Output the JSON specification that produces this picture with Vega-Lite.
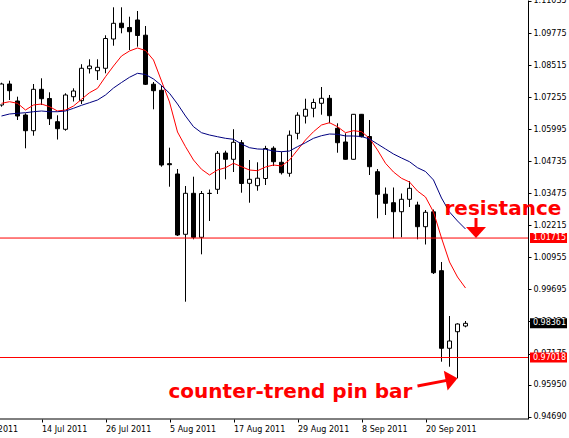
{
  "$schema": "https://vega.github.io/schema/vega-lite/v6.json",
  "width": 528,
  "height": 419,
  "autosize": {"type": "none"},
  "padding": {"left": 0, "top": 0, "right": 41, "bottom": 19},
  "background": "#ffffff",
  "config": {
    "view": {"stroke": null},
    "axis": {"labelFont": "DejaVu Sans", "labelFontSize": 8, "labelColor": "#000000", "tickColor": "#000000", "domainColor": "#000000", "grid": false, "tickSize": 3, "labelOverlap": false, "labelBound": false, "labelFlush": false}
  },
  "datasets": {
    "candles": [
      {"d": "7 Jul 2011", "o": 1.06946, "h": 1.07822, "l": 1.06879, "c": 1.07771, "f": 1.07012, "s": 1.06513},
      {"d": "8 Jul 2011", "o": 1.07771, "h": 1.07901, "l": 1.07142, "c": 1.07508, "f": 1.07075, "s": 1.06592},
      {"d": "11 Jul 2011", "o": 1.07103, "h": 1.07272, "l": 1.06356, "c": 1.06513, "f": 1.07012, "s": 1.06619},
      {"d": "12 Jul 2011", "o": 1.06552, "h": 1.06619, "l": 1.05243, "c": 1.05935, "f": 1.06749, "s": 1.06643},
      {"d": "13 Jul 2011", "o": 1.05935, "h": 1.07771, "l": 1.05739, "c": 1.07563, "f": 1.06946, "s": 1.06682},
      {"d": "14 Jul 2011", "o": 1.07563, "h": 1.07995, "l": 1.06946, "c": 1.07193, "f": 1.06985, "s": 1.06710},
      {"d": "15 Jul 2011", "o": 1.07201, "h": 1.07445, "l": 1.06159, "c": 1.06407, "f": 1.06879, "s": 1.06682},
      {"d": "18 Jul 2011", "o": 1.06289, "h": 1.06541, "l": 1.05589, "c": 1.06014, "f": 1.06710, "s": 1.06682},
      {"d": "19 Jul 2011", "o": 1.05990, "h": 1.07406, "l": 1.05935, "c": 1.07339, "f": 1.06749, "s": 1.06710},
      {"d": "20 Jul 2011", "o": 1.07272, "h": 1.07602, "l": 1.07083, "c": 1.07496, "f": 1.06906, "s": 1.06816},
      {"d": "21 Jul 2011", "o": 1.07115, "h": 1.08550, "l": 1.06985, "c": 1.08389, "f": 1.07170, "s": 1.06934},
      {"d": "22 Jul 2011", "o": 1.08373, "h": 1.08742, "l": 1.08184, "c": 1.08479, "f": 1.07429, "s": 1.07036},
      {"d": "25 Jul 2011", "o": 1.08294, "h": 1.08742, "l": 1.07929, "c": 1.08428, "f": 1.07602, "s": 1.07142},
      {"d": "26 Jul 2011", "o": 1.08389, "h": 1.09686, "l": 1.08192, "c": 1.09560, "f": 1.08058, "s": 1.07339},
      {"d": "27 Jul 2011", "o": 1.09541, "h": 1.10787, "l": 1.09277, "c": 1.10158, "f": 1.08479, "s": 1.07614},
      {"d": "28 Jul 2011", "o": 1.10162, "h": 1.10787, "l": 1.09765, "c": 1.09985, "f": 1.08872, "s": 1.07830},
      {"d": "29 Jul 2011", "o": 1.09993, "h": 1.10417, "l": 1.09108, "c": 1.09828, "f": 1.09069, "s": 1.08035},
      {"d": "1 Aug 2011", "o": 1.10288, "h": 1.10642, "l": 1.09238, "c": 1.09678, "f": 1.09187, "s": 1.08192},
      {"d": "2 Aug 2011", "o": 1.09690, "h": 1.10052, "l": 1.07732, "c": 1.07760, "f": 1.09088, "s": 1.08145},
      {"d": "3 Aug 2011", "o": 1.07763, "h": 1.07850, "l": 1.06777, "c": 1.07508, "f": 1.08715, "s": 1.07968},
      {"d": "4 Aug 2011", "o": 1.07524, "h": 1.07704, "l": 1.04520, "c": 1.04587, "f": 1.07889, "s": 1.07712},
      {"d": "5 Aug 2011", "o": 1.04638, "h": 1.05267, "l": 1.03733, "c": 1.04598, "f": 1.07064, "s": 1.07406},
      {"d": "8 Aug 2011", "o": 1.04233, "h": 1.04429, "l": 1.01795, "c": 1.01834, "f": 1.05884, "s": 1.06985},
      {"d": "9 Aug 2011", "o": 1.01862, "h": 1.03761, "l": 0.99212, "c": 1.03474, "f": 1.05306, "s": 1.06513},
      {"d": "10 Aug 2011", "o": 1.03474, "h": 1.04127, "l": 1.01665, "c": 1.01744, "f": 1.04783, "s": 1.06092},
      {"d": "11 Aug 2011", "o": 1.01744, "h": 1.03564, "l": 1.01075, "c": 1.03466, "f": 1.04418, "s": 1.05857},
      {"d": "12 Aug 2011", "o": 1.03466, "h": 1.03623, "l": 1.02385, "c": 1.03474, "f": 1.04193, "s": 1.05766},
      {"d": "15 Aug 2011", "o": 1.03631, "h": 1.05137, "l": 1.03446, "c": 1.05047, "f": 1.04390, "s": 1.05699},
      {"d": "16 Aug 2011", "o": 1.05058, "h": 1.05149, "l": 1.04024, "c": 1.04811, "f": 1.04480, "s": 1.05636},
      {"d": "17 Aug 2011", "o": 1.04811, "h": 1.05994, "l": 1.04311, "c": 1.05479, "f": 1.04653, "s": 1.05597},
      {"d": "18 Aug 2011", "o": 1.05463, "h": 1.05570, "l": 1.03497, "c": 1.03859, "f": 1.04520, "s": 1.05412},
      {"d": "19 Aug 2011", "o": 1.03867, "h": 1.04783, "l": 1.03104, "c": 1.04024, "f": 1.04390, "s": 1.05267},
      {"d": "22 Aug 2011", "o": 1.03773, "h": 1.04693, "l": 1.03576, "c": 1.04068, "f": 1.04362, "s": 1.05216},
      {"d": "23 Aug 2011", "o": 1.04056, "h": 1.05341, "l": 1.03800, "c": 1.05235, "f": 1.04508, "s": 1.05204},
      {"d": "24 Aug 2011", "o": 1.05247, "h": 1.05322, "l": 1.04547, "c": 1.04716, "f": 1.04587, "s": 1.05137},
      {"d": "25 Aug 2011", "o": 1.04693, "h": 1.05110, "l": 1.04213, "c": 1.04284, "f": 1.04547, "s": 1.05110},
      {"d": "26 Aug 2011", "o": 1.04260, "h": 1.05943, "l": 1.04127, "c": 1.05758, "f": 1.04783, "s": 1.05137},
      {"d": "29 Aug 2011", "o": 1.05833, "h": 1.06659, "l": 1.05597, "c": 1.06545, "f": 1.05176, "s": 1.05306},
      {"d": "30 Aug 2011", "o": 1.06505, "h": 1.07193, "l": 1.06218, "c": 1.06777, "f": 1.05570, "s": 1.05463},
      {"d": "31 Aug 2011", "o": 1.06816, "h": 1.07193, "l": 1.06462, "c": 1.07044, "f": 1.05896, "s": 1.05636},
      {"d": "1 Sep 2011", "o": 1.07013, "h": 1.07653, "l": 1.06564, "c": 1.07209, "f": 1.06159, "s": 1.05739},
      {"d": "2 Sep 2011", "o": 1.07209, "h": 1.07339, "l": 1.06226, "c": 1.06525, "f": 1.06250, "s": 1.05805},
      {"d": "5 Sep 2011", "o": 1.06030, "h": 1.06226, "l": 1.05070, "c": 1.05463, "f": 1.06092, "s": 1.05794},
      {"d": "6 Sep 2011", "o": 1.05491, "h": 1.05833, "l": 1.04803, "c": 1.04811, "f": 1.05857, "s": 1.05727},
      {"d": "7 Sep 2011", "o": 1.04811, "h": 1.06592, "l": 1.04803, "c": 1.06580, "f": 1.05935, "s": 1.05727},
      {"d": "8 Sep 2011", "o": 1.06580, "h": 1.06592, "l": 1.05668, "c": 1.05699, "f": 1.05896, "s": 1.05707},
      {"d": "9 Sep 2011", "o": 1.05707, "h": 1.06356, "l": 1.04193, "c": 1.04520, "f": 1.05636, "s": 1.05609},
      {"d": "12 Sep 2011", "o": 1.04323, "h": 1.04429, "l": 1.02491, "c": 1.03435, "f": 1.05176, "s": 1.05412},
      {"d": "13 Sep 2011", "o": 1.03438, "h": 1.03702, "l": 1.02621, "c": 1.03081, "f": 1.04653, "s": 1.05216},
      {"d": "14 Sep 2011", "o": 1.03104, "h": 1.03702, "l": 1.01705, "c": 1.02750, "f": 1.04311, "s": 1.05019},
      {"d": "15 Sep 2011", "o": 1.02750, "h": 1.03466, "l": 1.01744, "c": 1.03238, "f": 1.04064, "s": 1.04862},
      {"d": "16 Sep 2011", "o": 1.03238, "h": 1.03950, "l": 1.02935, "c": 1.03670, "f": 1.03918, "s": 1.04716},
      {"d": "19 Sep 2011", "o": 1.03014, "h": 1.03144, "l": 1.01665, "c": 1.02161, "f": 1.03564, "s": 1.04480},
      {"d": "20 Sep 2011", "o": 1.02161, "h": 1.02817, "l": 1.01461, "c": 1.02727, "f": 1.03328, "s": 1.04331},
      {"d": "21 Sep 2011", "o": 1.02746, "h": 1.02837, "l": 1.00301, "c": 1.00352, "f": 1.02739, "s": 1.03997},
      {"d": "22 Sep 2011", "o": 1.00431, "h": 1.00773, "l": 0.96853, "c": 0.97380, "f": 1.01716, "s": 1.03289},
      {"d": "23 Sep 2011", "o": 0.97380, "h": 0.98650, "l": 0.96656, "c": 0.97667, "f": 1.00773, "s": 1.02739},
      {"d": "26 Sep 2011", "o": 0.98032, "h": 0.98363, "l": 0.96200, "c": 0.98335, "f": 1.00183, "s": 1.02385},
      {"d": "27 Sep 2011", "o": 0.98256, "h": 0.98453, "l": 0.98205, "c": 0.98361, "f": 0.99750, "s": 1.02070}
    ]
  },
  "data": {"name": "candles"},
  "layer": [
    {
      "mark": {"type": "rule", "color": "#000000", "strokeWidth": 1},
      "encoding": {
        "x": {
          "field": "d", "type": "ordinal",
          "scale": {
            "type": "point", "padding": 0, "range": [-22.5, 545.5],
            "domain": ["4 Jul 2011","5 Jul 2011","6 Jul 2011","7 Jul 2011","8 Jul 2011","11 Jul 2011","12 Jul 2011","13 Jul 2011","14 Jul 2011","15 Jul 2011","18 Jul 2011","19 Jul 2011","20 Jul 2011","21 Jul 2011","22 Jul 2011","25 Jul 2011","26 Jul 2011","27 Jul 2011","28 Jul 2011","29 Jul 2011","1 Aug 2011","2 Aug 2011","3 Aug 2011","4 Aug 2011","5 Aug 2011","8 Aug 2011","9 Aug 2011","10 Aug 2011","11 Aug 2011","12 Aug 2011","15 Aug 2011","16 Aug 2011","17 Aug 2011","18 Aug 2011","19 Aug 2011","22 Aug 2011","23 Aug 2011","24 Aug 2011","25 Aug 2011","26 Aug 2011","29 Aug 2011","30 Aug 2011","31 Aug 2011","1 Sep 2011","2 Sep 2011","5 Sep 2011","6 Sep 2011","7 Sep 2011","8 Sep 2011","9 Sep 2011","12 Sep 2011","13 Sep 2011","14 Sep 2011","15 Sep 2011","16 Sep 2011","19 Sep 2011","20 Sep 2011","21 Sep 2011","22 Sep 2011","23 Sep 2011","26 Sep 2011","27 Sep 2011","28 Sep 2011","29 Sep 2011","30 Sep 2011","3 Oct 2011","4 Oct 2011","5 Oct 2011","6 Oct 2011","7 Oct 2011","10 Oct 2011","11 Oct 2011"]
          },
          "axis": {
            "orient": "bottom", "title": null, "domain": false,
            "values": ["4 Jul 2011","14 Jul 2011","26 Jul 2011","5 Aug 2011","17 Aug 2011","29 Aug 2011","8 Sep 2011","20 Sep 2011"],
            "labelAngle": 0, "labelAlign": "left", "labelBaseline": "top", "labelDx": -1, "labelPadding": 3,
            "labelOverlap": false, "labelBound": false, "labelFlush": false
          }
        },
        "y": {
          "field": "l", "type": "quantitative",
          "scale": {"type": "linear", "domain": [0.946, 1.11074], "nice": false, "zero": false},
          "axis": {
            "orient": "right", "title": null, "tickCount": 40,
            "values": [1.11035, 1.09775, 1.08515, 1.07255, 1.05995, 1.04735, 1.03475, 1.02215, 1.00955, 0.99695, 0.98435, 0.97175, 0.9595, 0.9469],
            "format": ".5f", "labelAlign": "left", "labelBaseline": "middle", "labelPadding": 2,
            "labelOverlap": false, "labelBound": false, "labelFlush": false
          }
        },
        "y2": {"field": "h"}
      }
    },
    {
      "mark": {"type": "bar", "size": 4, "stroke": "#000000", "strokeWidth": 1},
      "encoding": {
        "x": {"field": "d", "type": "ordinal"},
        "y": {"field": "o", "type": "quantitative", "axis": {"title": null}},
        "y2": {"field": "c"},
        "fill": {"condition": {"test": "datum.c >= datum.o", "value": "#ffffff"}, "value": "#000000"}
      }
    },
    {
      "data": {"values": [{"level": 1.01715}, {"level": 0.97018}]},
      "mark": {"type": "rule", "color": "#ff0000", "strokeWidth": 1},
      "encoding": {"y": {"field": "level", "type": "quantitative", "axis": {"title": null}}}
    },
    {
      "data": {"values": [{"base": 0.946}]},
      "mark": {"type": "rule", "color": "#000000", "strokeWidth": 1},
      "encoding": {"y": {"field": "base", "type": "quantitative", "axis": {"title": null}}}
    },
    {
      "mark": {"type": "line", "color": "#ff0000", "strokeWidth": 1},
      "encoding": {
        "x": {"field": "d", "type": "ordinal"},
        "y": {"field": "f", "type": "quantitative", "axis": {"title": null}}
      }
    },
    {
      "mark": {"type": "line", "color": "#000080", "strokeWidth": 1},
      "encoding": {
        "x": {"field": "d", "type": "ordinal"},
        "y": {"field": "s", "type": "quantitative", "axis": {"title": null}}
      }
    },
    {
      "data": {"values": [{"d": "11 Oct 2011", "price": 1.01715, "kind": "level"}, {"d": "11 Oct 2011", "price": 0.98361, "kind": "current"}, {"d": "11 Oct 2011", "price": 0.97018, "kind": "level"}]},
      "mark": {"type": "point", "shape": "M-18.5,-5L18.5,-5L18.5,5L-18.5,5Z", "size": 4, "filled": true, "opacity": 1, "strokeWidth": 0, "xOffset": 3},
      "encoding": {
        "x": {"field": "d", "type": "ordinal"},
        "y": {"field": "price", "type": "quantitative", "axis": {"title": null}},
        "fill": {"condition": {"test": "datum.kind === 'current'", "value": "#000000"}, "value": "#ff0000"}
      }
    },
    {
      "data": {"values": [{"d": "11 Oct 2011", "price": 1.01715}, {"d": "11 Oct 2011", "price": 0.98361}, {"d": "11 Oct 2011", "price": 0.97018}]},
      "mark": {"type": "text", "font": "DejaVu Sans", "fontSize": 8, "color": "#ffffff", "align": "center", "baseline": "middle", "xOffset": 4},
      "encoding": {
        "x": {"field": "d", "type": "ordinal"},
        "y": {"field": "price", "type": "quantitative", "axis": {"title": null}},
        "text": {"field": "price", "type": "quantitative", "format": ".5f"}
      }
    },
    {
      "data": {"values": [{"d": "22 Sep 2011", "price": 1.0264, "t": "resistance"}]},
      "mark": {"type": "text", "font": "DejaVu Sans", "fontWeight": "bold", "fontSize": 20, "color": "#ff0000", "align": "left", "baseline": "alphabetic", "dx": 3},
      "encoding": {
        "x": {"field": "d", "type": "ordinal"},
        "y": {"field": "price", "type": "quantitative", "axis": {"title": null}},
        "text": {"field": "t"}
      }
    },
    {
      "data": {"values": [{"d": "5 Aug 2011", "price": 0.95425, "t": "counter-trend pin bar"}]},
      "mark": {"type": "text", "font": "DejaVu Sans", "fontWeight": "bold", "fontSize": 20, "color": "#ff0000", "align": "left", "baseline": "alphabetic", "dx": -1},
      "encoding": {
        "x": {"field": "d", "type": "ordinal"},
        "y": {"field": "price", "type": "quantitative", "axis": {"title": null}},
        "text": {"field": "t"}
      }
    },
    {
      "data": {"values": [{"d": "28 Sep 2011", "p1": 1.02503, "p2": 1.02031}]},
      "mark": {"type": "rule", "color": "#ff0000", "strokeWidth": 3, "xOffset": 2.5},
      "encoding": {
        "x": {"field": "d", "type": "ordinal"},
        "y": {"field": "p1", "type": "quantitative", "axis": {"title": null}},
        "y2": {"field": "p2"}
      }
    },
    {
      "data": {"values": [{"d": "28 Sep 2011", "tip": 1.01715}]},
      "mark": {"type": "point", "shape": "M0,0L-10,-11L10,-11Z", "size": 4, "filled": true, "opacity": 1, "strokeWidth": 0, "color": "#ff0000", "xOffset": 2.5},
      "encoding": {
        "x": {"field": "d", "type": "ordinal"},
        "y": {"field": "tip", "type": "quantitative", "axis": {"title": null}}
      }
    },
    {
      "data": {"values": [{"d1": "19 Sep 2011", "p1": 0.95897, "d2": "23 Sep 2011", "p2": 0.96139}]},
      "mark": {"type": "rule", "color": "#ff0000", "strokeWidth": 3},
      "encoding": {
        "x": {"field": "d1", "type": "ordinal"},
        "x2": {"field": "d2"},
        "y": {"field": "p1", "type": "quantitative", "axis": {"title": null}},
        "y2": {"field": "p2"}
      }
    },
    {
      "data": {"values": [{"d": "26 Sep 2011", "tip": 0.962}]},
      "mark": {"type": "point", "shape": "M0,0L-12,-10L-12,10Z", "size": 4, "angle": 349, "filled": true, "opacity": 1, "strokeWidth": 0, "color": "#ff0000"},
      "encoding": {
        "x": {"field": "d", "type": "ordinal"},
        "y": {"field": "tip", "type": "quantitative", "axis": {"title": null}}
      }
    }
  ]
}
